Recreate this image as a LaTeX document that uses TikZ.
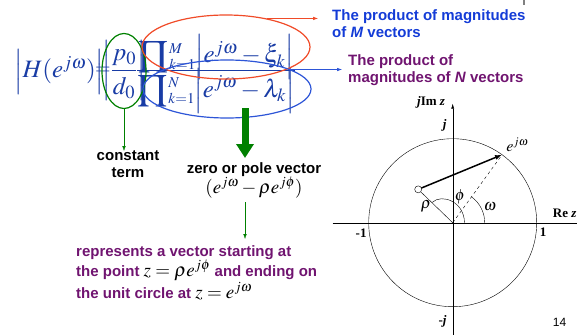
\documentclass[tikz,border=0pt]{standalone}
\usepackage{mathptmx}
\usepackage[no-math]{fontspec}
\setmainfont{Liberation Sans}
\newfontfamily\tmsfont{Liberation Serif}
\usetikzlibrary{arrows.meta,shapes.geometric,calc}
\definecolor{eqblue}{RGB}{25,60,165}
\definecolor{ttlblue}{RGB}{20,60,215}
\definecolor{purp}{RGB}{112,20,112}
\definecolor{redring}{RGB}{240,75,40}
\definecolor{bluering}{RGB}{45,85,215}
\definecolor{grn}{RGB}{0,128,0}
\newcommand{\blk}[1]{{\color{black}\fontsize{19}{18.3}\selectfont$#1$}}
\newcommand{\bigprod}{\vcenter{\hbox{$\displaystyle\prod$}}}
\newcommand{\limstack}[2]{\vcenter{\offinterlineskip\hbox{$\scriptscriptstyle #2$}\kern5pt\hbox{$\scriptscriptstyle #1$}}}
\newcommand{\prodterm}[3]{\medmuskip=2.5mu\mathord{\bigprod}\mkern1mu\limstack{#1}{#2}\Big|e^{j\omega}-#3\Big|}
\tikzset{
  eqpart/.style={inner sep=0pt, text=eqblue, font=\fontsize{25}{30}\selectfont},
  ring/.style={draw, ellipse, inner sep=0pt, line width=1.2pt},
  note/.style={font=\fontsize{15}{17.5}\selectfont\bfseries, inner sep=0pt, align=left},
  axlabel/.style={font=\fontsize{13}{15}\selectfont\tmsfont\bfseries, inner sep=0pt},
  greek/.style={font=\fontsize{16}{16}\selectfont, inner sep=0pt},
}

\begin{document}
\begin{tikzpicture}[x=1pt, y=-1pt, >={Latex[length=5pt,width=3.5pt]}]
  \useasboundingbox (0,0) rectangle (577,334);

  % the magnitude formula, piece by piece
  \node[eqpart, anchor=base west] (lhs) at (14,78) {$\Big|H(e^{j\omega})\Big|$};
  \node[eqpart, font=\fontsize{20}{24}\selectfont] (eqs) at (103,71) {$=$};
  \node[eqpart] (cfr) at (124,71) {$\displaystyle\bigg|\frac{p_0}{d_0}\bigg|$};
  \node[eqpart] (dot) at (145,70) {$\cdot$};
  \node[eqpart, anchor=base] (numr) at (216,63) {$\prodterm{k=1}{M}{\xi_k}$};
  \node[eqpart, anchor=base] (denr) at (216,97) {$\prodterm{k=1}{N}{\lambda_k}$};
  \coordinate (fb) at (0,70);
  \draw[eqblue, line width=0.9pt] (fb -| denr.west) -- (fb -| denr.east);

  % rings round the parts
  \node[ring, draw=grn, minimum width=44pt, minimum height=75pt] (cte) at (124,71) {};
  \node[ring, draw=redring, minimum width=168pt, minimum height=64pt] (numM) at (226,47) {};
  \node[ring, draw=bluering, minimum width=168pt, minimum height=58pt] (denN) at (227,89) {};

  \node[note, text=ttlblue, anchor=north west] (topM) at (332,9) {The product of magnitudes\\of \textit{M} vectors};
  \node[note, text=purp, anchor=north west] (botN) at (348,54) {The product of\\magnitudes of \textit{N} vectors};
  \draw[redring, ->, shorten >=14pt] (numM.35) -- (numM.35 -| topM.west);
  \draw[bluering, ->, shorten >=6pt] (denN.17) -- (denN.17 -| botN.west);

  \node[note, align=center, anchor=north, font=\fontsize{15}{16.5}\selectfont\bfseries] (cst) at (128,151) {constant\\term};
  \draw[grn, ->] (cte.south) -- (cte.south |- cst.north);

  \node[note, align=center, anchor=north, font=\fontsize{15}{19}\selectfont\bfseries] (zp) at (254,162) {zero or pole vector\\\blk{(e^{j\omega}-\rho e^{j\phi})}};
  \coordinate (vx) at (245,108);
  \draw[grn, line width=7pt, -{Triangle[length=14pt,width=17pt]}, shorten >=4pt] (vx) -- (vx |- zp.north);

  \node[note, text=purp, anchor=north west, font=\fontsize{15}{18.3}\selectfont\bfseries] (rep) at (76,245)
    {represents a vector starting at\\the point \blk{z=\rho e^{j\phi}} and ending on\\the unit circle at \blk{z=e^{j\omega}}};
  \draw[grn, ->, shorten <=4pt, shorten >=6pt] (vx |- zp.south) -- (vx |- rep.north);

  % the z plane
  \begin{scope}[shift={(452.7,222.7)}, y=1pt]
    \coordinate (O) at (0,0);
    \draw (-120,0) coordinate (xl) -- (125,0) coordinate (xr);
    \draw[-{Latex[length=5pt,width=3pt]}] (0,-112) coordinate (yb) -- (0,119) coordinate (yt);
    \draw (O) circle[radius=84];
    \coordinate (E) at (54:84);
    \coordinate (P) at (136:48);
    \draw[dashed] (O) -- (E);
    \draw (O) -- (P);
    \draw[line width=1.5pt, -{Latex[length=7pt,width=5pt]}] (P) -- (E);
    \draw[fill=white] (P) circle[radius=3.5];
    \draw (32,0) arc[start angle=0, end angle=54, radius=32];
    \draw (136:29) .. controls (-10,30) and (12,20) .. (11.7,0);

    \node[axlabel, anchor=base east] (imz) at (-7.5,117) {\textit{j}Im \textit{z}};
    \node[axlabel, anchor=base east] (jp) at (-6,94.5) {\textit{j}};
    \node[axlabel, anchor=base east] (jm) at (-6,-102) {-\textit{j}};
    \node[axlabel, anchor=base east] (m1) at (-86,-15) {-1};
    \node[axlabel, anchor=base west] (p1) at (87,-13.5) {1};
    \node[axlabel, anchor=base west] (rez) at (100,5.4) {Re \textit{z}};
    \node[greek, anchor=south west] (ejw) at ($(E)+(4,3)$) {$e^{j\omega}$};
    \node[greek] (phi) at (7.3,26) {$\phi$};
    \node[greek] (rho) at (-26.7,16) {$\rho$};
    \node[greek] (omg) at (37.3,16) {$\omega$};
  \end{scope}

  \node[font=\fontsize{12}{12}\selectfont, anchor=base west, inner sep=0pt] (pg) at (552.7,326.7) {14};
  \draw[gray, line width=1.5pt] (524,0) -- (524,5);
\end{tikzpicture}
\end{document}
